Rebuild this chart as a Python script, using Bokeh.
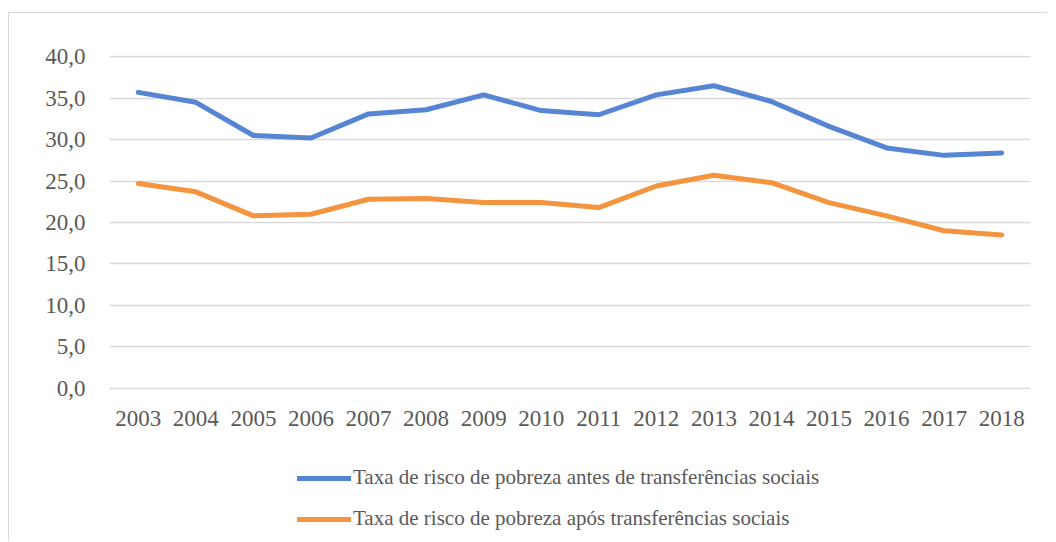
from bokeh.plotting import figure
from bokeh.layouts import column
from bokeh.models import FactorRange, Range1d, Legend, LegendItem, CustomJSTickFormatter, SingleIntervalTicker
from bokeh.embed import file_html
from bokeh.resources import INLINE

years = ["2003", "2004", "2005", "2006", "2007", "2008", "2009", "2010",
         "2011", "2012", "2013", "2014", "2015", "2016", "2017", "2018"]
antes = [35.7, 34.5, 30.5, 30.2, 33.1, 33.6, 35.4, 33.5,
         33.0, 35.4, 36.5, 34.6, 31.6, 29.0, 28.1, 28.4]
apos = [24.7, 23.7, 20.8, 21.0, 22.8, 22.9, 22.4, 22.4,
        21.8, 24.4, 25.7, 24.8, 22.4, 20.8, 19.0, 18.5]
label_antes = "Taxa de risco de pobreza antes de transferências sociais"
label_apos = "Taxa de risco de pobreza após transferências sociais"

FONT = "Liberation Serif"
TXT = "#595959"
BLUE = "#5585D3"
ORANGE = "#F4943F"

p = figure(frame_width=921, frame_height=334, output_backend="svg", toolbar_location=None,
           x_range=FactorRange(factors=years, range_padding=0),
           y_range=Range1d(-0.15, 40.15),
           min_border_left=100, min_border_right=17, min_border_top=42, min_border_bottom=60)
p.outline_line_color = None
p.background_fill_color = "white"

p.line(years, antes, line_color=BLUE, line_width=5, line_cap="round", line_join="round")
p.line(years, apos, line_color=ORANGE, line_width=5, line_cap="round", line_join="round")

p.xgrid.grid_line_color = None
p.ygrid.grid_line_color = "#d9d9d9"
p.ygrid.grid_line_width = 1.5

p.yaxis.ticker = SingleIntervalTicker(interval=5)
p.yaxis.formatter = CustomJSTickFormatter(code="return tick.toFixed(1).replace('.', ',');")
for ax in (p.xaxis[0], p.yaxis[0]):
    ax.axis_line_color = None
    ax.major_tick_line_color = None
    ax.minor_tick_line_color = None
    ax.major_label_text_font = FONT
    ax.major_label_text_font_size = "23px"
    ax.major_label_text_color = TXT
p.yaxis.major_label_standoff = 18
p.xaxis.major_label_standoff = 15

# legend panel (second figure, same series, hidden renderers)
p2 = figure(width=1038, height=92, output_backend="svg", toolbar_location=None,
            x_range=FactorRange(factors=years, range_padding=0), y_range=Range1d(0, 40),
            x_axis_type=None, y_axis_type=None,
            min_border_left=0, min_border_right=0, min_border_top=0, min_border_bottom=0)
p2.outline_line_color = None
p2.grid.grid_line_color = None
g1 = p2.line(years, antes, line_color=BLUE, line_width=5, line_cap="round", visible=False)
g2 = p2.line(years, apos, line_color=ORANGE, line_width=5, line_cap="round", visible=False)

legend = Legend(items=[LegendItem(label=label_antes, renderers=[g1]),
                       LegendItem(label=label_apos, renderers=[g2])],
                location=(188, 10), orientation="vertical",
                glyph_width=54, glyph_height=24, label_height=24, spacing=16,
                label_standoff=2, padding=0, margin=0,
                border_line_color=None, background_fill_alpha=0,
                inactive_fill_alpha=0,
                label_text_font=FONT, label_text_font_size="21px", label_text_color=TXT)
p2.add_layout(legend, "center")

layout = column(p, p2, spacing=0,
                styles={"margin-top": "12px", "margin-left": "8px",
                        "border-left": "1.5px solid #d9d9d9", "border-top": "1.5px solid #d9d9d9"})

open("out.html", "w").write(file_html(layout, INLINE))
